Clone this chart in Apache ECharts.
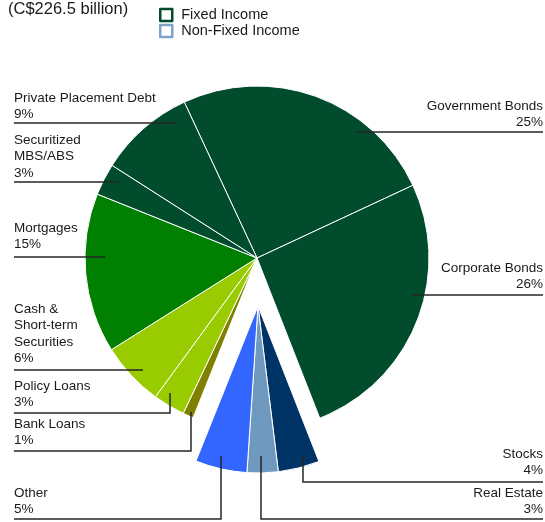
<!DOCTYPE html>
<html>
<head>
<meta charset="utf-8">
<script src="https://cdn.jsdelivr.net/npm/echarts@6/dist/echarts.min.js"></script>
<style>
  html, body { margin: 0; padding: 0; background: #fff; }
  #chart { width: 545px; height: 522px; }
</style>
</head>
<body>
<div id="chart"></div>
<script>
// Invested assets by class, percent of the C$226.5 billion total.
// Slices run clockwise starting with Government Bonds.
const bondNames = ['Government Bonds', 'Corporate Bonds'];
const bondValues = [25, 26];

const nonFixedNames = ['Stocks', 'Real Estate', 'Other'];
const nonFixedValues = [4, 3, 5];

const otherFixedNames = ['Bank Loans', 'Policy Loans', 'Cash &\nShort-term\nSecurities',
  'Mortgages', 'Securitized\nMBS/ABS', 'Private Placement Debt'];
const otherFixedValues = [1, 3, 6, 15, 3, 9];

const titleText = '(C$226.5 billion)';
const legendNames = ['Fixed Income', 'Non-Fixed Income'];

// Slice colours
const colors = {
  'Government Bonds': '#004c2c',
  'Corporate Bonds': '#004c2c',
  'Stocks': '#003366',
  'Real Estate': '#7099bf',
  'Other': '#3366ff',
  'Bank Loans': '#808000',
  'Policy Loans': '#99cc00',
  'Cash &\nShort-term\nSecurities': '#99cc00',
  'Mortgages': '#007f00',
  'Securitized\nMBS/ABS': '#004c2c',
  'Private Placement Debt': '#004c2c'
};

// Where each label sits and how its leader line runs.
const labelPlace = {
  'Government Bonds':            { side: 'right', top: 98,  lineY: 132, tipX: 355, tipY: 132 },
  'Corporate Bonds':             { side: 'right', top: 260, lineY: 295, tipX: 412, tipY: 295 },
  'Stocks':                      { side: 'right', top: 446, lineY: 482, tipX: 303, tipY: 455 },
  'Real Estate':                 { side: 'right', top: 485, lineY: 519, tipX: 261, tipY: 456 },
  'Other':                       { side: 'left',  top: 485, lineY: 519, tipX: 221, tipY: 456 },
  'Bank Loans':                  { side: 'left',  top: 416, lineY: 451, tipX: 191, tipY: 412 },
  'Policy Loans':                { side: 'left',  top: 378, lineY: 413, tipX: 170, tipY: 393 },
  'Cash &\nShort-term\nSecurities': { side: 'left', top: 301, lineY: 370, tipX: 143, tipY: 370 },
  'Mortgages':                   { side: 'left',  top: 220, lineY: 257, tipX: 105, tipY: 257 },
  'Securitized\nMBS/ABS':        { side: 'left',  top: 132, lineY: 182, tipX: 119, tipY: 182 },
  'Private Placement Debt':      { side: 'left',  top: 90,  lineY: 123, tipX: 177, tipY: 123 }
};
const LEFT_EDGE = 14;
const RIGHT_EDGE = 543;

const FONT = '"Liberation Sans", Arial, sans-serif';
const sum = arr => arr.reduce((a, b) => a + b, 0);

const gapStyle = {
  itemStyle: { color: 'rgba(0,0,0,0)', borderWidth: 0 },
  label: { show: false },
  emphasis: { disabled: true }
};

function slice(name, value) {
  return { name, value, itemStyle: { color: colors[name] } };
}

// Main pie: fixed income slices, with an empty gap where the pulled-out group goes
const fixedData = [
  ...bondNames.map((n, i) => slice(n, bondValues[i])),
  Object.assign({ name: '_gapA', value: sum(nonFixedValues) }, gapStyle),
  ...otherFixedNames.map((n, i) => slice(n, otherFixedValues[i]))
];

// Pulled-out pie: non-fixed income slices only
const nonFixedData = [
  Object.assign({ name: '_gapB', value: sum(bondValues) }, gapStyle),
  ...nonFixedNames.map((n, i) => slice(n, nonFixedValues[i])),
  Object.assign({ name: '_gapC', value: sum(otherFixedValues) }, gapStyle)
];

const seriesData = [fixedData, nonFixedData];

function placeLabel(p) {
  const item = seriesData[p.seriesIndex][p.dataIndex];
  const L = labelPlace[item.name];
  if (!L) return {};
  return {
    x: L.side === 'left' ? LEFT_EDGE : RIGHT_EDGE,
    y: L.top,
    align: L.side,
    verticalAlign: 'top'
  };
}

// Leader lines: underline under each label, running into its slice
const leaderLines = Object.keys(labelPlace).map(function (name) {
  const L = labelPlace[name];
  const x0 = L.side === 'left' ? LEFT_EDGE : RIGHT_EDGE;
  return {
    type: 'polyline',
    z: 100,
    silent: true,
    shape: { points: [[x0, L.lineY], [L.tipX, L.lineY], [L.tipX, L.tipY]] },
    style: { stroke: '#262626', lineWidth: 1.5, fill: null }
  };
});

const commonSeries = {
  type: 'pie',
  startAngle: 115,
  clockwise: true,
  avoidLabelOverlap: false,
  animation: false,
  emphasis: { disabled: true },
  itemStyle: { borderColor: '#ffffff', borderWidth: 1 },
  label: {
    show: true,
    position: 'outside',
    formatter: '{b}\n{c}%',
    fontFamily: FONT,
    fontSize: 13.5,
    lineHeight: 16.5,
    color: '#1a1a1a',
    width: 220,
    overflow: 'none'
  },
  labelLine: { show: false },
  labelLayout: placeLabel
};

const chart = echarts.init(document.getElementById('chart'), null, { renderer: 'canvas' });
chart.setOption({
  animation: false,
  title: {
    text: titleText,
    left: 3,
    top: -4,
    textStyle: { fontFamily: FONT, fontSize: 16.5, fontWeight: 'normal', color: '#1a1a1a' }
  },
  legend: {
    orient: 'vertical',
    left: 159,
    top: 7,
    padding: 0,
    itemWidth: 12,
    itemHeight: 12,
    itemGap: 0,
    selectedMode: false,
    textStyle: { fontFamily: FONT, fontSize: 14.5, lineHeight: 16, color: '#1a1a1a', padding: [0, 0, 0, 4] },
    data: [
      { name: legendNames[0], icon: 'rect', itemStyle: { color: '#ffffff', borderColor: '#004c2c', borderWidth: 2.5 } },
      { name: legendNames[1], icon: 'rect', itemStyle: { color: '#ffffff', borderColor: '#7fa3c6', borderWidth: 2.5 } }
    ]
  },
  graphic: leaderLines,
  series: [
    Object.assign({}, commonSeries, {
      name: legendNames[0],
      center: [257, 258],
      radius: 172,
      data: fixedData
    }),
    Object.assign({}, commonSeries, {
      name: legendNames[1],
      center: [258, 306],
      radius: 167,
      data: nonFixedData
    })
  ]
});
</script>
</body>
</html>
